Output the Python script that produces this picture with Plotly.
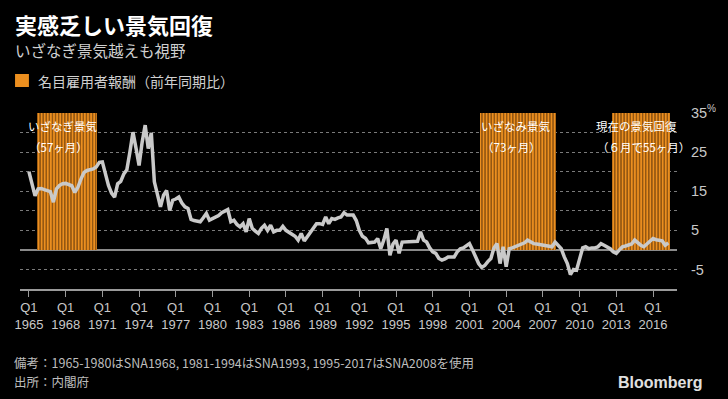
import plotly.graph_objects as go

# ---------------- data ----------------
start_year = 1965
# quarterly % change YoY of nominal compensation of employees, 1965Q1 .. 2017Q2
comp_values = [
    20.0, 17.0, 13.8, 15.6,   # 1965
    15.7, 15.4, 15.2, 14.9,   # 1966
    12.2, 15.6, 16.5, 16.9,   # 1967
    17.0, 16.6, 16.4, 14.7,   # 1968
    16.0, 18.1, 19.8, 20.3,   # 1969
    20.5, 20.7, 21.2, 22.4,   # 1970
    22.5, 19.0, 16.5, 14.5,   # 1971
    13.5, 16.9, 17.5, 19.4,   # 1972
    20.5, 25.0, 30.1, 26.0,   # 1973
    21.6, 27.5, 31.9, 25.9,   # 1974
    29.9, 17.4, 14.0, 11.0,   # 1975
    14.0, 15.2, 10.1, 12.7,   # 1976
    13.0, 13.5, 12.0, 11.0,   # 1977
    10.6, 7.8, 7.5, 7.3,      # 1978
    7.2, 8.2, 9.3, 7.6,       # 1979
    8.0, 8.4, 8.8, 9.5,       # 1980
    10.0, 10.3, 7.2, 7.6,     # 1981
    6.5, 5.9, 6.7, 4.6,       # 1982
    8.0, 5.5, 4.8, 4.2,       # 1983
    5.5, 6.3, 5.0, 6.3,       # 1984
    4.6, 5.0, 5.0, 6.0,       # 1985
    5.0, 4.5, 4.2, 3.5,       # 1986
    2.5, 4.2, 2.3, 3.5,       # 1987
    4.5, 5.5, 6.7, 6.7,       # 1988
    6.5, 8.4, 6.7, 8.0,       # 1989
    7.8, 8.2, 8.4, 9.5,       # 1990
    8.9, 8.9, 8.9, 7.5,       # 1991
    5.0, 3.5, 3.0, 1.8,       # 1992
    2.0, 2.0, 2.9, 0.3,       # 1993
    2.5, 5.5, -1.4, 1.5,      # 1994
    2.5, -0.9, 2.0, 2.0,      # 1995
    2.0, 2.0, 2.0, 2.2,       # 1996
    4.6, 2.5, 2.0, 0.5,       # 1997
    -0.5, -0.9, -2.2, -2.6,   # 1998
    -2.3, -1.8, -1.8, -1.8,   # 1999
    -0.5, 0.3, 0.5, 1.0,      # 2000
    1.6, 0.0, -2.0, -3.5,     # 2001
    -4.5, -4.0, -3.0, -2.2,   # 2002
    0.5, 1.6, -3.5, 0.8,      # 2003
    -4.3, 0.3, 0.5, 0.8,      # 2004
    1.0, 1.4, 1.8, 2.5,       # 2005
    2.0, 1.6, 1.5, 1.4,       # 2006
    1.2, 1.2, 1.0, 0.8,       # 2007
    2.0, 1.2, 0.3, -1.8,      # 2008
    -3.5, -6.3, -5.0, -5.2,   # 2009
    -2.0, 0.5, 0.8, 0.3,      # 2010
    0.5, 0.5, 0.8, 1.6,       # 2011
    1.2, 0.8, 0.3, -0.5,      # 2012
    -0.9, 0.0, 0.8, 1.0,      # 2013
    1.2, 1.5, 2.5, 1.8,       # 2014
    1.2, 0.8, 1.5, 2.2,       # 2015
    2.9, 2.6, 2.5, 2.3,       # 2016
    1.2, 1.8,                 # 2017
]

# expansion periods (first quarter, last quarter), as (year, quarter)
expansion_starts = [(1965, 4), (2002, 1), (2012, 4)]
expansion_ends = [(1970, 3), (2008, 1), (2017, 2)]
expansion_height = 35

expansion_names = ["いざなぎ景気", "いざなみ景気", "現在の景気回復"]
expansion_months = ["（57ヶ月）", "（73ヶ月）", "（６月で55ヶ月）"]

tick_years = list(range(1965, 2017, 3))
y_tick_vals = [-5, 5, 15, 25, 35]
y_tick_text = ["-5", "5", "15", "25", "35<sup>%</sup>"]

title_text = "実感乏しい景気回復"
subtitle_text = "いざなぎ景気越えも視野"
legend_text = "名目雇用者報酬（前年同期比）"
note_text = "備考：1965-1980はSNA1968, 1981-1994はSNA1993, 1995-2017はSNA2008を使用"
source_text = "出所：内閣府"

# ---------------- figure ----------------
W, H = 728, 399
ML, MR, MT, MB = 20, 45, 113, 110
PW, PH = W - ML - MR, H - MT - MB

def px(x):
    return (x - ML) / PW

def py(y):
    return (H - MB - y) / PH

def qpos(yq):
    return yq[0] + (yq[1] - 1) * 0.25

x_vals = [start_year + i * 0.25 for i in range(len(comp_values))]

half_bar = 0.1  # half of a quarterly bar, in years
span_x, span_w = [], []
for s, e in zip(expansion_starts, expansion_ends):
    x0, x1 = qpos(s) - half_bar, qpos(e) + half_bar
    span_x.append((x0 + x1) / 2)
    span_w.append(x1 - x0)
span_y = [expansion_height] * len(span_x)

ORANGE = "#EC8F1F"
CJK = "Noto Sans CJK JP, sans-serif"
LAT = "Liberation Sans, Arial, sans-serif"

fig = go.Figure()
fig.add_trace(go.Bar(
    x=span_x, y=span_y, width=span_w,
    marker=dict(color=ORANGE, line=dict(width=0),
                pattern=dict(shape="|", fgcolor="#5a3208", bgcolor=ORANGE,
                             size=3.09, solidity=0.3, fillmode="replace")),
    showlegend=False, hoverinfo="skip"))
fig.add_trace(go.Scatter(x=x_vals, y=comp_values, mode="lines",
                         line=dict(color="#c9c9c9", width=3.5), showlegend=False))

annotations = []
label_pos = [(1967.75, 1967.45), (2004.76, 2004.45), (2014.64, 2015.2)]
for l1, l2, (xa, xb) in zip(expansion_names, expansion_months, label_pos):
    annotations.append(dict(x=xa, y=31.6, xref="x", yref="y", text=l1, showarrow=False,
                            font=dict(family=CJK, size=11.5, color="#ffffff"), xanchor="center", yanchor="middle"))
    annotations.append(dict(x=xb, y=26.2, xref="x", yref="y", text=l2, showarrow=False,
                            font=dict(family=CJK, size=11.5, color="#ffffff"), xanchor="center", yanchor="middle"))

annotations += [
    dict(x=px(13), y=py(24), xref="paper", yref="paper", text="<b>" + title_text + "</b>", showarrow=False,
         xanchor="left", yanchor="middle", font=dict(family=CJK, size=22, color="#ffffff")),
    dict(x=px(13), y=py(50), xref="paper", yref="paper", text=subtitle_text, showarrow=False,
         xanchor="left", yanchor="middle", font=dict(family=CJK, size=15.5, color="#d0d0d0")),
    dict(x=px(36), y=py(81), xref="paper", yref="paper", text=legend_text, showarrow=False,
         xanchor="left", yanchor="middle", font=dict(family=CJK, size=14, color="#d0d0d0")),
    dict(x=px(12), y=py(362), xref="paper", yref="paper", text=note_text, showarrow=False,
         xanchor="left", yanchor="middle", font=dict(family=CJK, size=12.5, color="#bdbdbd")),
    dict(x=px(12), y=py(381), xref="paper", yref="paper", text=source_text, showarrow=False,
         xanchor="left", yanchor="middle", font=dict(family=CJK, size=12.5, color="#bdbdbd")),
    dict(x=px(710), y=py(382), xref="paper", yref="paper", text="<b>Bloomberg</b>", showarrow=False,
         xanchor="right", yanchor="middle", font=dict(family=LAT, size=16, color="#e0e0e0")),
]

shapes = [dict(type="rect", xref="paper", yref="paper", x0=px(15), x1=px(29), y0=py(87), y1=py(74),
               fillcolor=ORANGE, line=dict(width=0))]

fig.update_layout(
    width=W, height=H,
    margin=dict(l=ML, r=MR, t=MT, b=MB, pad=0),
    paper_bgcolor="#000000", plot_bgcolor="#000000",
    bargap=0, showlegend=False,
    annotations=annotations, shapes=shapes,
    xaxis=dict(
        range=[1964.27, 2017.96], tickvals=tick_years,
        ticktext=[f"Q1<br>{y}" for y in tick_years],
        ticks="outside", ticklen=6, tickwidth=1, tickcolor="#9a9a9a",
        showline=True, linecolor="#9a9a9a", linewidth=1.5,
        showgrid=False, zeroline=False,
        tickfont=dict(family=LAT, size=13, color="#c8c8c8"),
        fixedrange=True,
    ),
    yaxis=dict(
        range=[-10, 35], side="right", tickvals=y_tick_vals, ticktext=y_tick_text,
        ticks="outside", ticklen=10, tickcolor="rgba(0,0,0,0)",
        showgrid=True, gridcolor="#7a7a7a", gridwidth=1, griddash="dot",
        minor=dict(dtick=5, tick0=0, showgrid=True, gridcolor="#7a7a7a", gridwidth=1,
                   griddash="dot", ticks=""),
        zeroline=True, zerolinecolor="#8a8a8a", zerolinewidth=1.5,
        showline=False,
        tickfont=dict(family=LAT, size=14.5, color="#c8c8c8"),
        fixedrange=True,
    ),
)

fig.write_html("out.html", config={"displayModeBar": False},
               post_script="document.body.style.margin='0';")
